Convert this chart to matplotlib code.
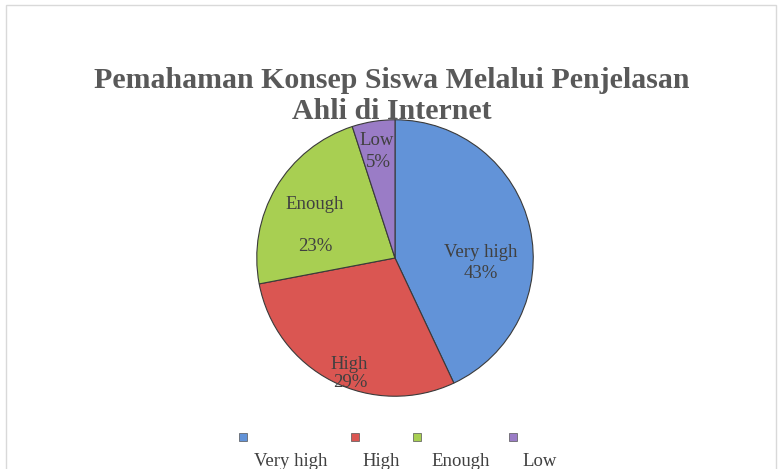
import matplotlib
matplotlib.use("Agg")
import matplotlib.pyplot as plt
from matplotlib.patches import Rectangle

# data
categories = ["Very high", "High", "Enough", "Low"]
shares = [43, 29, 23, 5]
colors = ["#6293d8", "#da5652", "#a8cf52", "#9a7cc6"]
title = "Pemahaman Konsep Siswa Melalui Penjelasan\nAhli di Internet"

plt.rcParams["font.family"] = ["Liberation Serif", "DejaVu Serif"]
text_color = "#404040"

fig = plt.figure(figsize=(7.78, 4.69), dpi=100)
fig.patches.append(Rectangle((6 / 778, -0.02), 770 / 778, 1.02 - 5 / 469,
                             transform=fig.transFigure, fill=False,
                             edgecolor="#d9d9d9", linewidth=1.0))

fig.text(392 / 778, 1 - 96 / 469, title, ha="center", va="center", fontsize=21.5,
         fontweight="bold", color="#595959", linespacing=1.17)

ax = fig.add_axes([254 / 778, 1 - 399 / 469, 282 / 778, 282 / 469])
ax.pie(shares, colors=colors, startangle=90, counterclock=False, radius=1,
       wedgeprops=dict(edgecolor="#3a3a3a", linewidth=0.8))
ax.set_xlim(-1.02, 1.02)
ax.set_ylim(-1.02, 1.02)
ax.set_aspect("equal")
ax.axis("off")

# label placement (name pos, percent pos) in pie units
label_pos = [((0.62, 0.04), (0.62, -0.11)),
             ((-0.33, -0.77), (-0.32, -0.90)),
             ((-0.58, 0.39), (-0.58, 0.08)),
             ((-0.13, 0.85), (-0.12, 0.69))]
for name, val, (p1, p2) in zip(categories, shares, label_pos):
    ax.text(p1[0], p1[1], name, ha="center", va="center", fontsize=13.5, color=text_color)
    ax.text(p2[0], p2[1], f"{val}%", ha="center", va="center", fontsize=13.5, color=text_color)

# legend: small square above each label
legend_sq_x = [243, 355, 417, 513]
legend_txt_x = [291, 381, 461, 540]
for c, name, sx, tx in zip(colors, categories, legend_sq_x, legend_txt_x):
    fig.patches.append(Rectangle((sx / 778 - 0.005, 1 - 441 / 469), 0.01, 8 / 469,
                                 transform=fig.transFigure, facecolor=c,
                                 edgecolor="#555555", linewidth=0.5))
    fig.text(tx / 778, 1 - 461 / 469, name, ha="center", va="center",
             fontsize=13.5, color=text_color)

fig.savefig("out.png", dpi=100)
